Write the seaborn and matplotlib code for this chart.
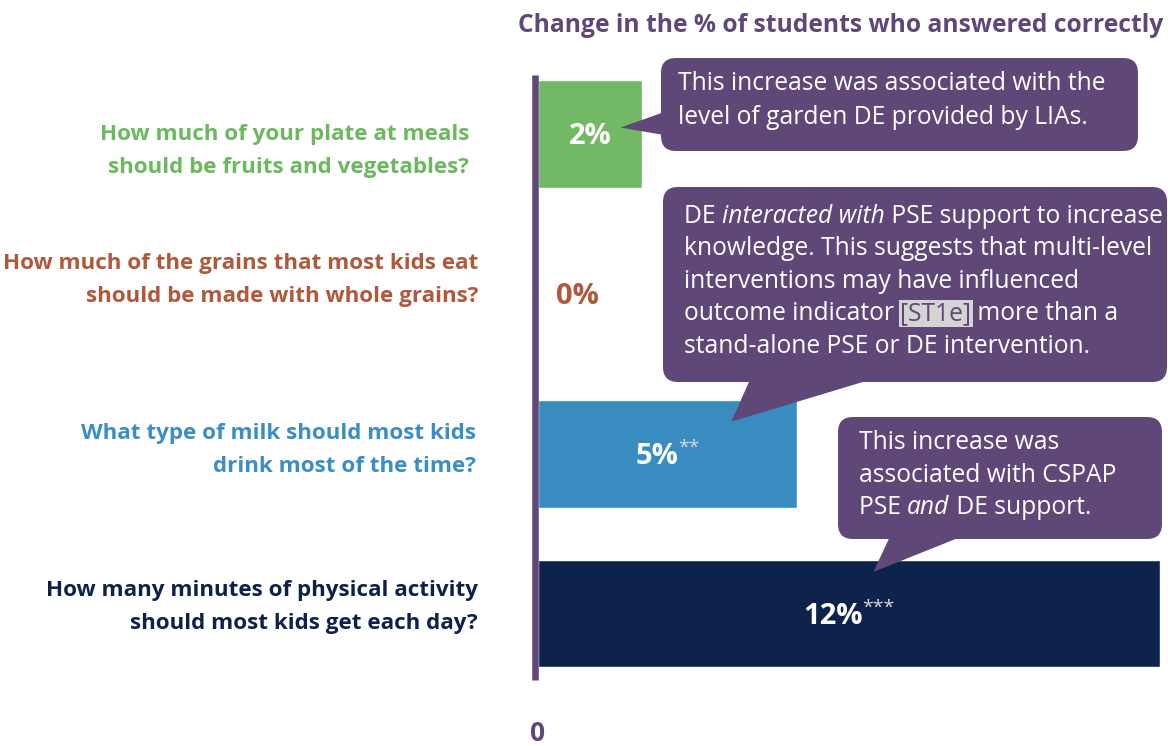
import matplotlib
matplotlib.use("Agg")
import matplotlib.pyplot as plt
import numpy as np
import pandas as pd
import seaborn as sns
from matplotlib.patches import FancyBboxPatch, Polygon
from matplotlib.transforms import Affine2D, IdentityTransform

# ---- data -------------------------------------------------------------
questions = [
    "How much of your plate at meals\nshould be fruits and vegetables?",
    "How much of the grains that most kids eat\nshould be made with whole grains?",
    "What type of milk should most kids\ndrink most of the time?",
    "How many minutes of physical activity\nshould most kids get each day?",
]
change_pct = [2, 0, 5, 12]
significance = ["", "", "**", "***"]
value_labels = ["2%", "0%", "5%", "12%"]
bar_colors = ["#72b966", "#b0583b", "#388cbf", "#0d234b"]
label_colors = ["#6cb85f", "#b0583b", "#3a8ec3", "#0d2149"]
title_text = "Change in the % of students who answered correctly"

PURPLE = "#5f4878"
FONT = "Open Sans"

sns.set_theme(style="white")
plt.rcParams["font.family"] = [FONT, "DejaVu Sans"]

W, H = 1168, 746
fig = plt.figure(figsize=(W / 100, H / 100), dpi=100)
fig.patch.set_facecolor("white")

# axes frame: left edge at the zero line, right edge at the figure border
ax_left, ax_right, ax_top, ax_bottom = 538, 1168, 75, 680
ax = fig.add_axes([ax_left / W, 1 - ax_bottom / H,
                   (ax_right - ax_left) / W, (ax_bottom - ax_top) / H])

df = pd.DataFrame({"question": questions, "change": change_pct})
sns.barplot(data=df, x="change", y="question", hue="question",
            order=questions, hue_order=questions, palette=bar_colors,
            saturation=1, width=0.675, legend=False, orient="h", ax=ax)

px_per_unit = 51.83
ax.set_xlim(0, (ax_right - ax_left) / px_per_unit)
ax.set_ylim(3.416, -0.369)
ax.set_facecolor("white")

for s in ["top", "right", "bottom"]:
    ax.spines[s].set_visible(False)
sp = ax.spines["left"]
sp.set_color(PURPLE)
sp.set_linewidth(4.75)
sp.set_position(("outward", 2.4))
sp.set_capstyle("butt")

ax.set_yticks([])
ax.set_ylabel("")
ax.set_xlabel("")
ax.set_xticks([0])
ax.set_xticklabels(["0"])
for lbl in ax.get_xticklabels():
    lbl.set_fontsize(19)
    lbl.set_fontweight("bold")
    lbl.set_color(PURPLE)
ax.tick_params(axis="x", length=0, pad=29)

fig.canvas.draw()
renderer = fig.canvas.get_renderer()

# top-down pixel coordinates for the annotation layer
px = Affine2D().scale(1 / W, -1 / H).translate(0, 1) + fig.transFigure


def draw_runs(x, y_base, parts, ha="left"):
    """Draw text runs of mixed style side by side; x, y_base in top-down px."""
    items = []
    for text, kw in parts:
        t = fig.text(0, 0, text, transform=IdentityTransform(),
                     va="baseline", ha="left", **kw)
        w = t.get_window_extent(renderer).width
        items.append((t, w))
    total = sum(w for _, w in items)
    cx = x if ha == "left" else x - total / 2
    for t, w in items:
        t.set_position((cx, H - y_base))
        cx += w
    return items


# title
fig.text(841, 25, title_text, transform=px, ha="center", va="center",
         fontsize=17.7, fontweight="bold", color=PURPLE)

# question labels, right aligned to the left of the axis
label_right = [469, 478, 476, 478]
label_shift = [17, -14, -4, -7]
for i, (q, c) in enumerate(zip(questions, label_colors)):
    _, yc = ax.transData.transform((0, i))
    yc = H - yc + label_shift[i]
    lines = q.split("\n")
    for k, line in enumerate(lines):
        fig.text(label_right[i], yc + (k - (len(lines) - 1) / 2) * 33, line,
                 transform=px, ha="right", va="center", fontsize=16.1,
                 fontweight="bold", color=c)

# value labels
for i, (v, lab, sig) in enumerate(zip(change_pct, value_labels, significance)):
    xd = v / 2 if v > 0 else 0.77
    dx, dy = ax.transData.transform((xd, i))
    color = "white" if v > 0 else bar_colors[i]
    main = fig.text(0, 0, lab, transform=IdentityTransform(), va="baseline",
                    ha="left", fontsize=21, fontweight="bold", color=color)
    w1 = main.get_window_extent(renderer).width
    w2 = 0
    star = None
    if sig:
        star = fig.text(0, 0, sig, transform=IdentityTransform(),
                        va="baseline", ha="left", fontsize=14,
                        color="#dcdcdc")
        w2 = star.get_window_extent(renderer).width - 1
    x0 = dx - (w1 + w2) / 2
    base = dy - 10
    main.set_position((x0, base))
    if star is not None:
        star.set_position((x0 + w1 - 1, base + 11))


# callout bubbles
def bubble(x0, y0, x1, y1, tail):
    box = FancyBboxPatch((x0, y0), x1 - x0, y1 - y0,
                         boxstyle="round,pad=0,rounding_size=15",
                         transform=px, facecolor=PURPLE, edgecolor="none",
                         zorder=5)
    fig.add_artist(box)
    poly = Polygon(tail, closed=True, transform=px, facecolor=PURPLE,
                   edgecolor="none", zorder=5)
    fig.add_artist(poly)


def ax_to_px(xv, yv):
    dx, dy = ax.transData.transform((xv, yv))
    return dx, H - dy


tip1 = ax_to_px(1.59, -0.04)
bubble(661, 58, 1138, 151, [(670, 110), tip1, (670, 136)])
tip2 = ax_to_px(3.73, 1.80)
bubble(663, 187, 1167, 382, [(752, 375), tip2, (886, 375)])
tip3 = ax_to_px(6.47, 2.74)
bubble(838, 417, 1162, 539, [(893, 530), tip3, (978, 530)])

FS = 17.7
n = dict(fontsize=FS, color="white", zorder=6)
it = dict(fontsize=FS, color="white", style="italic", zorder=6)
hl = dict(fontsize=FS, color="#5f4878", zorder=6,
          bbox=dict(facecolor="#d4d4d4", edgecolor="none", pad=1.0))

callout_lines = [
    (678, 90, [("This increase was associated with the", n)]),
    (678, 124, [("level of garden DE provided by LIAs.", n)]),
    (684, 223, [("DE ", n), ("interacted with", it), (" PSE support to increase", n)]),
    (684, 255, [("knowledge. This suggests that multi-level", n)]),
    (684, 288, [("interventions may have influenced", n)]),
    (684, 320, [("outcome indicator ", n), ("[ST1e]", hl), (" more than a", n)]),
    (684, 353, [("stand-alone PSE or DE intervention.", n)]),
    (859, 449, [("This increase was", n)]),
    (859, 482, [("associated with CSPAP", n)]),
    (859, 514, [("PSE ", n), ("and", it), (" DE support.", n)]),
]
for x, yb, parts in callout_lines:
    draw_runs(x, yb, parts)

fig.savefig("out.png", dpi=100, facecolor="white")
